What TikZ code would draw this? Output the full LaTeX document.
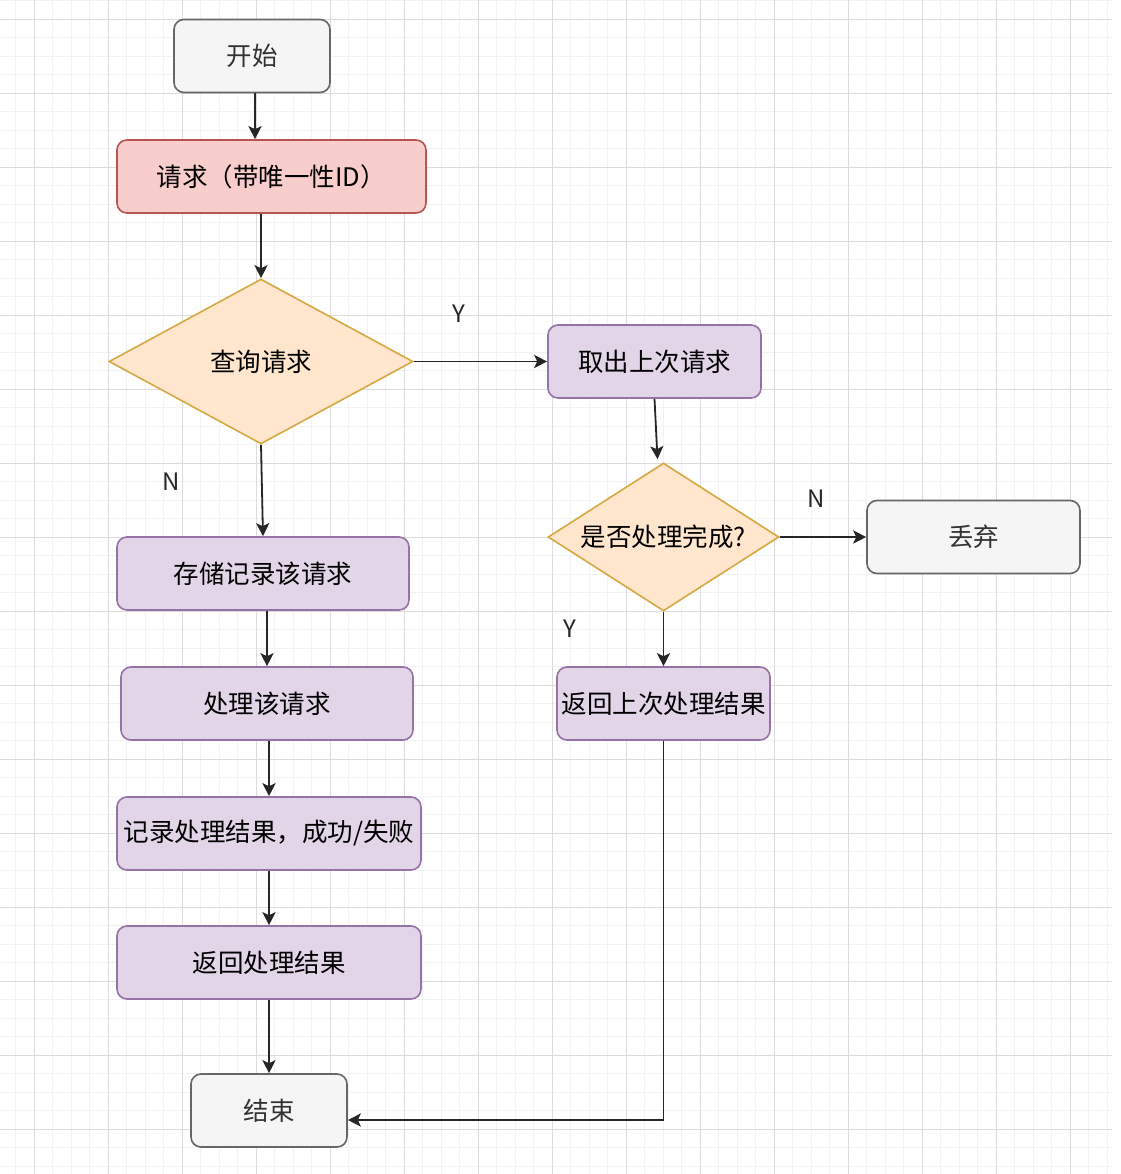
\documentclass[tikz,border=0pt]{standalone}
\usepackage{fontspec}
\setmainfont{Noto Sans CJK SC}
\usetikzlibrary{arrows.meta, shapes.geometric}

\definecolor{gridminor}{HTML}{F2F2F2}
\definecolor{gridmajor}{HTML}{DCDCDC}
\definecolor{grayfill}{HTML}{F5F5F5}
\definecolor{grayline}{HTML}{666666}
\definecolor{graytext}{HTML}{333333}
\definecolor{redfill}{HTML}{F8CECC}
\definecolor{redline}{HTML}{B85450}
\definecolor{purplefill}{HTML}{E1D5E7}
\definecolor{purpleline}{HTML}{9673A6}
\definecolor{orangefill}{HTML}{FFE6CC}
\definecolor{orangeline}{HTML}{D6A843}
\definecolor{linkcol}{HTML}{262626}

\begin{document}
\begin{tikzpicture}[x=1pt, y=-1pt,
  >={Stealth[length=13pt,width=13pt,inset=3pt]},
  box/.style={rectangle, rounded corners=10pt, line width=1.6pt, minimum height=73pt,
    inner sep=0pt, font=\fontsize{25.5}{30}\selectfont},
  graybox/.style={box, draw=grayline, fill=grayfill, text=graytext},
  redbox/.style={box, draw=redline, fill=redfill},
  purplebox/.style={box, draw=purpleline, fill=purplefill},
  decision/.style={diamond, draw=orangeline, fill=orangefill, line width=1.6pt,
    inner sep=0pt, aspect=1.6, font=\fontsize{25.5}{30}\selectfont},
  flow/.style={->, draw=linkcol, line width=1.8pt},
  branch/.style={font=\fontsize{24}{28}\selectfont, text=linkcol}]
  \useasboundingbox (0,0) rectangle (1120,1174);
  \fill[white] (0,0) rectangle (1120,1174);
  % grid
  \foreach \k in {0,...,59}
    \draw[gridminor, line width=0.8pt] ({15.8+18.5*\k},0) -- ({15.8+18.5*\k},1174);
  \foreach \k in {0,...,63}
    \draw[gridminor, line width=0.8pt] (0,{0.8+18.5*\k}) -- (1112,{0.8+18.5*\k});
  \foreach \k in {0,...,14}
    \draw[gridmajor, line width=0.9pt] ({34.3+74*\k},0) -- ({34.3+74*\k},1174);
  \foreach \k in {0,...,15}
    \draw[gridmajor, line width=0.9pt] (0,{19.3+74*\k}) -- (1112,{19.3+74*\k});

  % left column
  \node[graybox, minimum width=156pt] (start) at (252,56) {开始};
  \node[redbox, minimum width=309pt] (req) at (271.5,176.5) {请求（带唯一性ID）};
  \node[decision, minimum width=304pt, minimum height=165pt] (query) at (261,361.5) {查询请求};
  \node[purplebox, minimum width=292pt] (store) at (263,573.5) {存储记录该请求};
  \node[purplebox, minimum width=292pt] (handle) at (267,703.5) {处理该请求};
  \node[purplebox, minimum width=304pt] (record) at (269,833.5) {记录处理结果，成功/失败};
  \node[purplebox, minimum width=304pt] (ret) at (269,962.5) {返回处理结果};
  \node[graybox, minimum width=156pt] (end) at (269,1110.5) {结束};

  % right column
  \node[purplebox, minimum width=213pt] (fetch) at (654.5,361.5) {取出上次请求};
  \node[decision, minimum width=231pt, minimum height=148pt] (check) at (663.5,537) {是否处理完成?};
  \node[graybox, minimum width=213pt] (drop) at (973.5,537) {丢弃};
  \node[purplebox, minimum width=213pt] (lastres) at (663.5,703.5) {返回上次处理结果};

  % branch labels
  \node[branch] (yq) at (459,314) {Y};
  \node[branch] (nq) at (171,482) {N};
  \node[branch] (nc) at (816,499) {N};
  \node[branch] (yc) at (570,629) {Y};

  % connectors
  \draw[flow] ([xshift=3pt]start.south) -- ([xshift=3pt]start.south |- req.north);
  \draw[flow] (query.north |- req.south) -- (query.north);
  \draw[flow] (query.east) -- (fetch.west);
  \coordinate (checkin) at ([xshift=-6pt,yshift=3pt]check.north);
  \draw[flow] (fetch.south) -- (checkin);
  \draw[flow] (check.east) -- (drop.west);
  \draw[flow] (check.south) -- (lastres.north);
  \draw[flow] (query.south) -- (store.north);
  \draw[flow] (handle.north |- store.south) -- (handle.north);
  \draw[flow] (record.north |- handle.south) -- (record.north);
  \draw[flow] (record.south) -- (ret.north);
  \draw[flow] (ret.south) -- (end.north);
  \coordinate (endin) at ([yshift=-9.5pt]end.east);
  \draw[flow] (lastres.south) |- (endin);
\end{tikzpicture}
\end{document}
